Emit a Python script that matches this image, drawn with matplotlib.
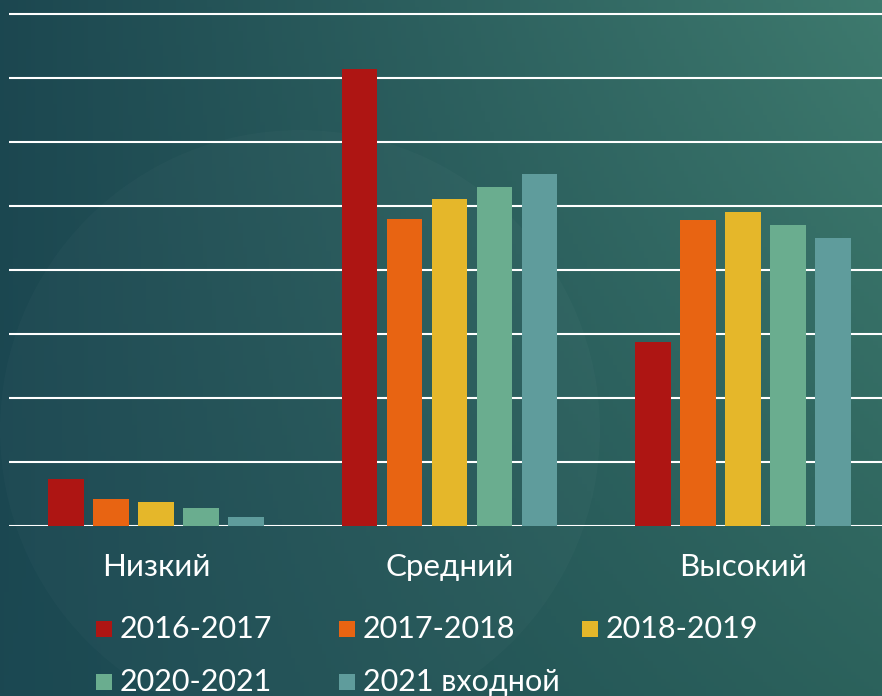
import numpy as np
import matplotlib.pyplot as plt
from matplotlib.patches import Rectangle, Circle

# values (one gridline = 10)
categories = ["Низкий", "Средний", "Высокий"]
series = ["2016-2017", "2017-2018", "2018-2019", "2020-2021", "2021 входной"]
colors = ["#ae1513", "#e86412", "#e5b72a", "#6aad8f", "#5f9c9c"]
v_2016 = [7.2, 71.3, 28.6]
v_2017 = [4.2, 47.9, 47.8]
v_2018 = [3.6, 51.0, 49.0]
v_2020 = [2.8, 52.9, 47.0]
v_2021 = [1.4, 55.0, 45.0]
values = [v_2016, v_2017, v_2018, v_2020, v_2021]
grid_levels = np.arange(0, 81, 10)

W, H = 882, 696
fig = plt.figure(figsize=(W / 100, H / 100), dpi=100)

# background: dark teal gradient
bg = fig.add_axes([0, 0, 1, 1])
bg.set_axis_off()
xx, yy = np.meshgrid(np.linspace(0, 1, 200), np.linspace(0, 1, 200))
tl = np.array([28, 71, 80]) / 255
tr = np.array([62, 122, 110]) / 255
bl = np.array([27, 72, 82]) / 255
br = np.array([44, 98, 92]) / 255
img = (tl * ((1 - xx) * (1 - yy))[..., None] + tr * (xx * (1 - yy))[..., None]
       + bl * ((1 - xx) * yy)[..., None] + br * (xx * yy)[..., None])
bg.imshow(img, extent=[0, W, H, 0], aspect="auto")
bg.add_patch(Circle((300, 430), 300, color="white", alpha=0.018, lw=0))
bg.set_xlim(0, W)
bg.set_ylim(H, 0)

# plot area (right edge runs past the picture)
left, right, base = 9.25, 890, 525.5
ax = fig.add_axes([left / W, (H - base) / H, (right - left) / W, base / H])
ax.patch.set_alpha(0)
for s in ax.spines.values():
    s.set_visible(False)
ax.set_xlim(-0.5, 2.5)
ax.set_ylim(0, base / 6.4)
for g in grid_levels:
    ax.axhline(g, color="white", lw=1.5, zorder=1)

x = np.arange(len(categories))
pitch, width = 0.1533, 0.1216
for i, (vals, c) in enumerate(zip(values, colors)):
    ax.bar(x + (i - 2) * pitch, vals, width=width, color=c, zorder=2)

ax.set_yticks([])
ax.set_xticks(x)
ax.set_xticklabels(categories, fontsize=22.5, color="white", family="Lato")
ax.tick_params(axis="x", length=0, pad=20)

# legend, laid out row by row with equal column widths
for i, (lab, c) in enumerate(zip(series, colors)):
    col, row = i % 3, i // 3
    x0 = 96 + col * 243
    yc = 629 + row * 53
    bg.add_patch(Rectangle((x0, yc - 8), 16, 16, color=c, lw=0))
    bg.text(x0 + 24, yc, lab, color="white", fontsize=22, family="Lato",
            va="center", ha="left")

fig.savefig("out.png", dpi=100)
